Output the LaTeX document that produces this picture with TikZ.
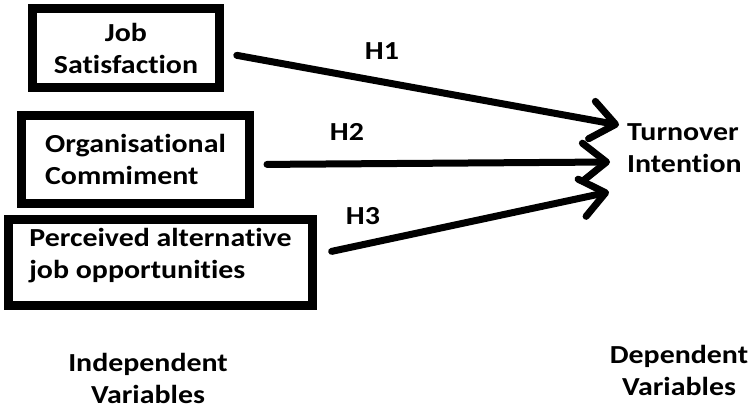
\documentclass[tikz,border=0pt]{standalone}
\usepackage{fontspec}
\usepackage{tikz}
\usetikzlibrary{arrows.meta}
\newfontfamily\diagfont{Carlito}[FakeStretch=1.15, Ligatures=NoCommon]

\tikzset{
  varbox/.style={draw, line width=9pt, minimum width=#1, inner sep=0pt},
  hyparrow/.style={line width=7pt, line cap=round,
    -{Straight Barb[length=24pt, width=38pt, line cap=round, line join=round]}},
  lbl/.style={inner sep=0pt, align=left}
}

\begin{document}
\begin{tikzpicture}[x=1pt, y=-1pt, font=\diagfont\bfseries\fontsize{26}{32}\selectfont]
        \useasboundingbox (0,0) rectangle (752,410);

        % Variable boxes
        \node[varbox=187pt, minimum height=79pt, align=center] (js) at (126,48) {Job\\Satisfaction};
        \node[varbox=228pt, minimum height=88pt, align=left] (oc) at (135.5,159.5) {Organisational\\Commiment};
        \node[varbox=304pt, minimum height=86pt, align=left, text depth=18pt] (pa) at (160.5,262.5) {Perceived alternative\\job opportunities};

        % Dependent variable
        \node[lbl, anchor=west] (ti) at (627,148) {Turnover\\Intention};

        % Arrow heads
        \coordinate (in1) at (619,125);
        \coordinate (in2) at (610,162);
        \coordinate (in3) at (609,192);

        % Hypotheses
        \draw[hyparrow, shorten <=13pt] ([yshift=-5pt]js.east) -- (in1);
        \draw[hyparrow, shorten <=13pt] ([yshift=-5pt]oc.east) -- (in2);
        \draw[hyparrow, shorten <=15pt] ([yshift=8pt]pa.east) -- (in3);
        \node[lbl] (h1) at (382,51) {H1};
        \node[lbl] (h2) at (347,132) {H2};
        \node[lbl] (h3) at (363,216) {H3};

        % Labels
        \node[lbl, align=center] (iv) at (148,378) {Independent\\Variables};
        \node[lbl, align=center] (dv) at (679,370) {Dependent\\Variables};
    \end{tikzpicture}
\end{document}
